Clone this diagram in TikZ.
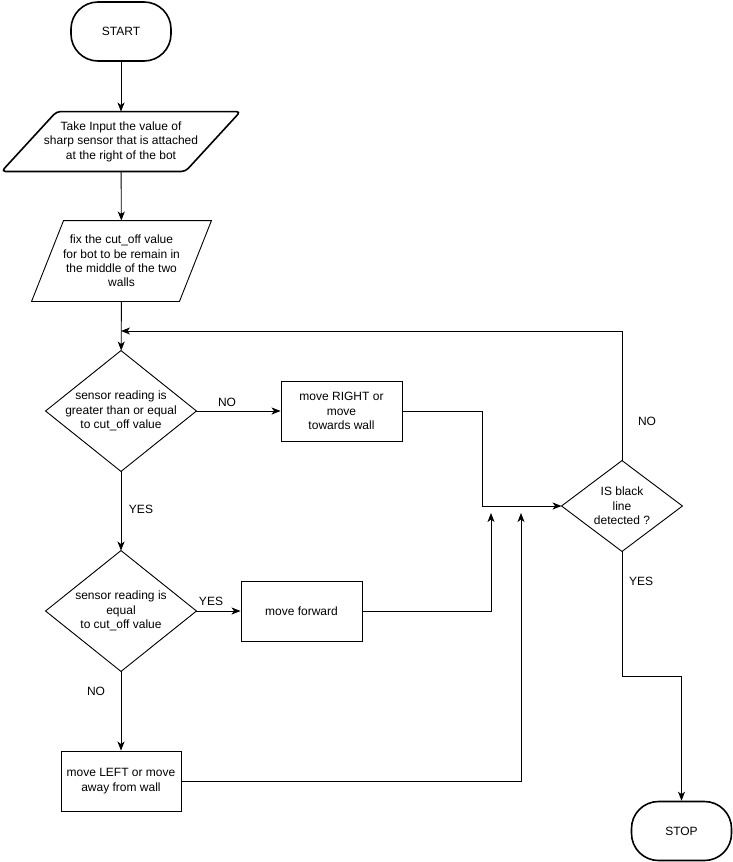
\documentclass[tikz,border=0pt]{standalone}
\usepackage{fontspec}
\setmainfont{Liberation Sans}
\usetikzlibrary{arrows.meta, positioning}

\begin{document}
\begin{tikzpicture}[
    x=1pt,
    y=-1pt,
    >={Stealth[length=9pt, width=7pt, inset=2.5pt]},
    line width=0.9pt,
    font=\fontsize{12}{14.4}\selectfont,
    terminal/.style={draw, line width=1.6pt, rounded corners=27pt, minimum width=100pt, minimum height=59pt},
    process/.style={draw, minimum width=120pt, minimum height=60pt, align=center, inner sep=0pt},
    iobox/.style={align=center, inner sep=0pt},
    decision/.style={align=center, inner sep=0pt},
    lbl/.style={inner sep=0pt}
]

\useasboundingbox (0,0) rectangle (732,862);

% Bend points and free arrow ends
\coordinate (loopin) at (121,331);
\coordinate (fwdtip) at (491,513);
\coordinate (lefttip) at (521,513);

% =========================
% Start and inputs
% =========================
\node[terminal] (start) at (121,31.5) {START};

\node[iobox, minimum width=238pt, minimum height=59pt] (input) at (121,141.5)
    {Take Input the value of\\sharp sensor that is attached\\at the right of the bot};
\draw[line width=1.6pt, rounded corners=4pt]
    ([xshift=55pt]input.north west) -- (input.north east)
    -- ([xshift=-55pt]input.south east) -- (input.south west) -- cycle;

\node[iobox, minimum width=179pt, minimum height=80pt] (cutoff) at (121.5,261)
    {fix the cut\_off value\\for bot to be remain in\\the middle of the two\\walls};
\draw ([xshift=32pt]cutoff.north west) -- (cutoff.north east)
    -- ([xshift=-32pt]cutoff.south east) -- (cutoff.south west) -- cycle;

% =========================
% Decisions
% =========================
\node[decision, minimum width=150pt, minimum height=120pt] (geq) at (121,411)
    {sensor reading is\\greater than or equal\\to cut\_off value};
\draw (geq.north) -- (geq.east) -- (geq.south) -- (geq.west) -- cycle;

\node[decision, minimum width=150pt, minimum height=120pt] (eq) at (121,611)
    {sensor reading is\\equal\\to cut\_off value};
\draw (eq.north) -- (eq.east) -- (eq.south) -- (eq.west) -- cycle;

\node[decision, minimum width=120pt, minimum height=90pt] (black) at (622,506)
    {IS black\\line\\detected ?};
\draw (black.north) -- (black.east) -- (black.south) -- (black.west) -- cycle;

% =========================
% Moves
% =========================
\node[process, minimum width=121pt] (right) at (341.5,411) {move RIGHT or\\move\\towards wall};
\node[process, minimum width=121pt] (fwd) at (301.5,611) {move forward};
\node[process] (left) at (121,781) {move LEFT or move\\away from wall};

\node[terminal] (stop) at (681.5,831) {STOP};

% =========================
% Connectors
% =========================
\draw[->] (start) -- (input);
\draw[->] (input) -- (cutoff);
\draw[->] (cutoff) -- (geq);
\draw[->] (geq.east) -- (right.west);
\draw[->] (geq.south) -- (eq.north);
\draw[->] (eq.east) -- (fwd.west);
\draw[->] (eq.south) -- (left.north);

\draw[->] (right.east) -- ++(80,0) |- (black.west);
\draw[->] (fwd.east) -| (fwdtip);
\draw[->] (left.east) -| (lefttip);

\draw[->] (black.north) |- (loopin);
\draw[->] (black.south) -- ++(0,125) -| (stop.north);

% Branch labels
\node[lbl] (noA) at (227,402) {NO};
\node[lbl] (yesA) at (141,509) {YES};
\node[lbl] (yesB) at (211,601) {YES};
\node[lbl] (noB) at (96,691) {NO};
\node[lbl] (noC) at (647,421) {NO};
\node[lbl] (yesC) at (641,581) {YES};

\end{tikzpicture}
\end{document}
